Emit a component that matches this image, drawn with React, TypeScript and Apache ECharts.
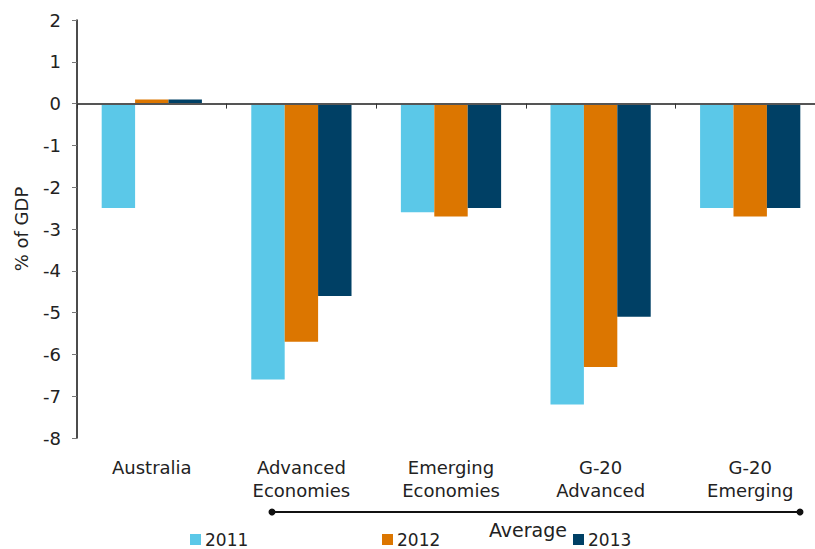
import React, { useEffect, useRef } from "react";
import * as echarts from "echarts";

const categories = [
  "Australia",
  "Advanced\nEconomies",
  "Emerging\nEconomies",
  "G-20\nAdvanced",
  "G-20\nEmerging",
];
const years = ["2011", "2012", "2013"];
const values2011 = [-2.5, -6.6, -2.6, -7.2, -2.5];
const values2012 = [0.1, -5.7, -2.7, -6.3, -2.7];
const values2013 = [0.1, -4.6, -2.5, -5.1, -2.5];
const colors = ["#5BC8E8", "#DC7600", "#004065"];
const yTicks = { min: -8, max: 2, interval: 1 };

const FONT = "DejaVu Sans";

export default function App() {
  const ref = useRef<HTMLDivElement>(null);

  useEffect(() => {
    if (!ref.current) return;
    const chart = echarts.init(ref.current, null, { renderer: "svg" });
    const seriesValues = [values2011, values2012, values2013];
    const legendX = [190, 382, 573];

    chart.setOption({
      animation: false,
      textStyle: { fontFamily: FONT },
      // the plot runs slightly past the visible right edge
      grid: { left: 77, width: 748, top: 20, height: 418, outerBoundsMode: "none", containLabel: false },
      legend: years.map((y, i) => ({
        data: [y],
        left: legendX[i],
        top: 531,
        itemWidth: 11,
        itemHeight: 11,
        itemGap: 5,
        icon: "rect",
        textStyle: { fontFamily: FONT, fontSize: 17, color: "#222", padding: [0, 0, 0, -1] },
        padding: 0,
      })),
      xAxis: [
        {
          type: "category",
          data: categories,
          axisLine: { onZero: true, lineStyle: { color: "#555", width: 2 } },
          axisTick: { show: true, length: 5, lineStyle: { color: "#333" } },
          axisLabel: { show: false },
          splitLine: { show: false },
          z: 10,
        },
        {
          type: "category",
          data: categories,
          position: "bottom",
          axisLine: { show: false, onZero: false },
          axisTick: { show: false },
          axisLabel: {
            fontFamily: FONT,
            fontSize: 18,
            color: "#222",
            lineHeight: 23,
            margin: 18,
          },
        },
      ],
      yAxis: {
        type: "value",
        min: yTicks.min,
        max: yTicks.max,
        interval: yTicks.interval,
        name: "% of GDP",
        nameLocation: "middle",
        nameRotate: 90,
        nameGap: 47,
        nameTextStyle: { fontFamily: FONT, fontSize: 18, color: "#222" },
        axisLine: { show: true, lineStyle: { color: "#111", width: 1.5 } },
        axisTick: { show: true, length: 5, lineStyle: { color: "#777" } },
        axisLabel: { fontFamily: FONT, fontSize: 18, color: "#222", margin: 16 },
        splitLine: { show: false },
      },
      series: years.map((y, i) => ({
        name: y,
        type: "bar",
        xAxisIndex: 0,
        data: seriesValues[i],
        barGap: "0%",
        barCategoryGap: "33%",
        itemStyle: { color: colors[i] },
      })),
      color: colors,
      graphic: [
        {
          type: "line",
          shape: { x1: 272, y1: 512, x2: 800, y2: 512 },
          style: { stroke: "#111", lineWidth: 2 },
        },
        { type: "circle", shape: { cx: 272, cy: 512, r: 3.5 }, style: { fill: "#111" } },
        { type: "circle", shape: { cx: 800, cy: 512, r: 3.5 }, style: { fill: "#111" } },
        {
          type: "text",
          x: 528,
          y: 530,
          style: {
            text: "Average",
            fontFamily: FONT,
            fontSize: 19,
            fill: "#222",
            align: "center",
            verticalAlign: "middle",
          },
        },
      ],
    });

    return () => chart.dispose();
  }, []);

  return (
    <div style={{ width: 815, height: 549, position: "absolute", left: 0, top: 0, overflow: "hidden" }}>
      <div ref={ref} style={{ width: 830, height: 549 }} />
    </div>
  );
}
